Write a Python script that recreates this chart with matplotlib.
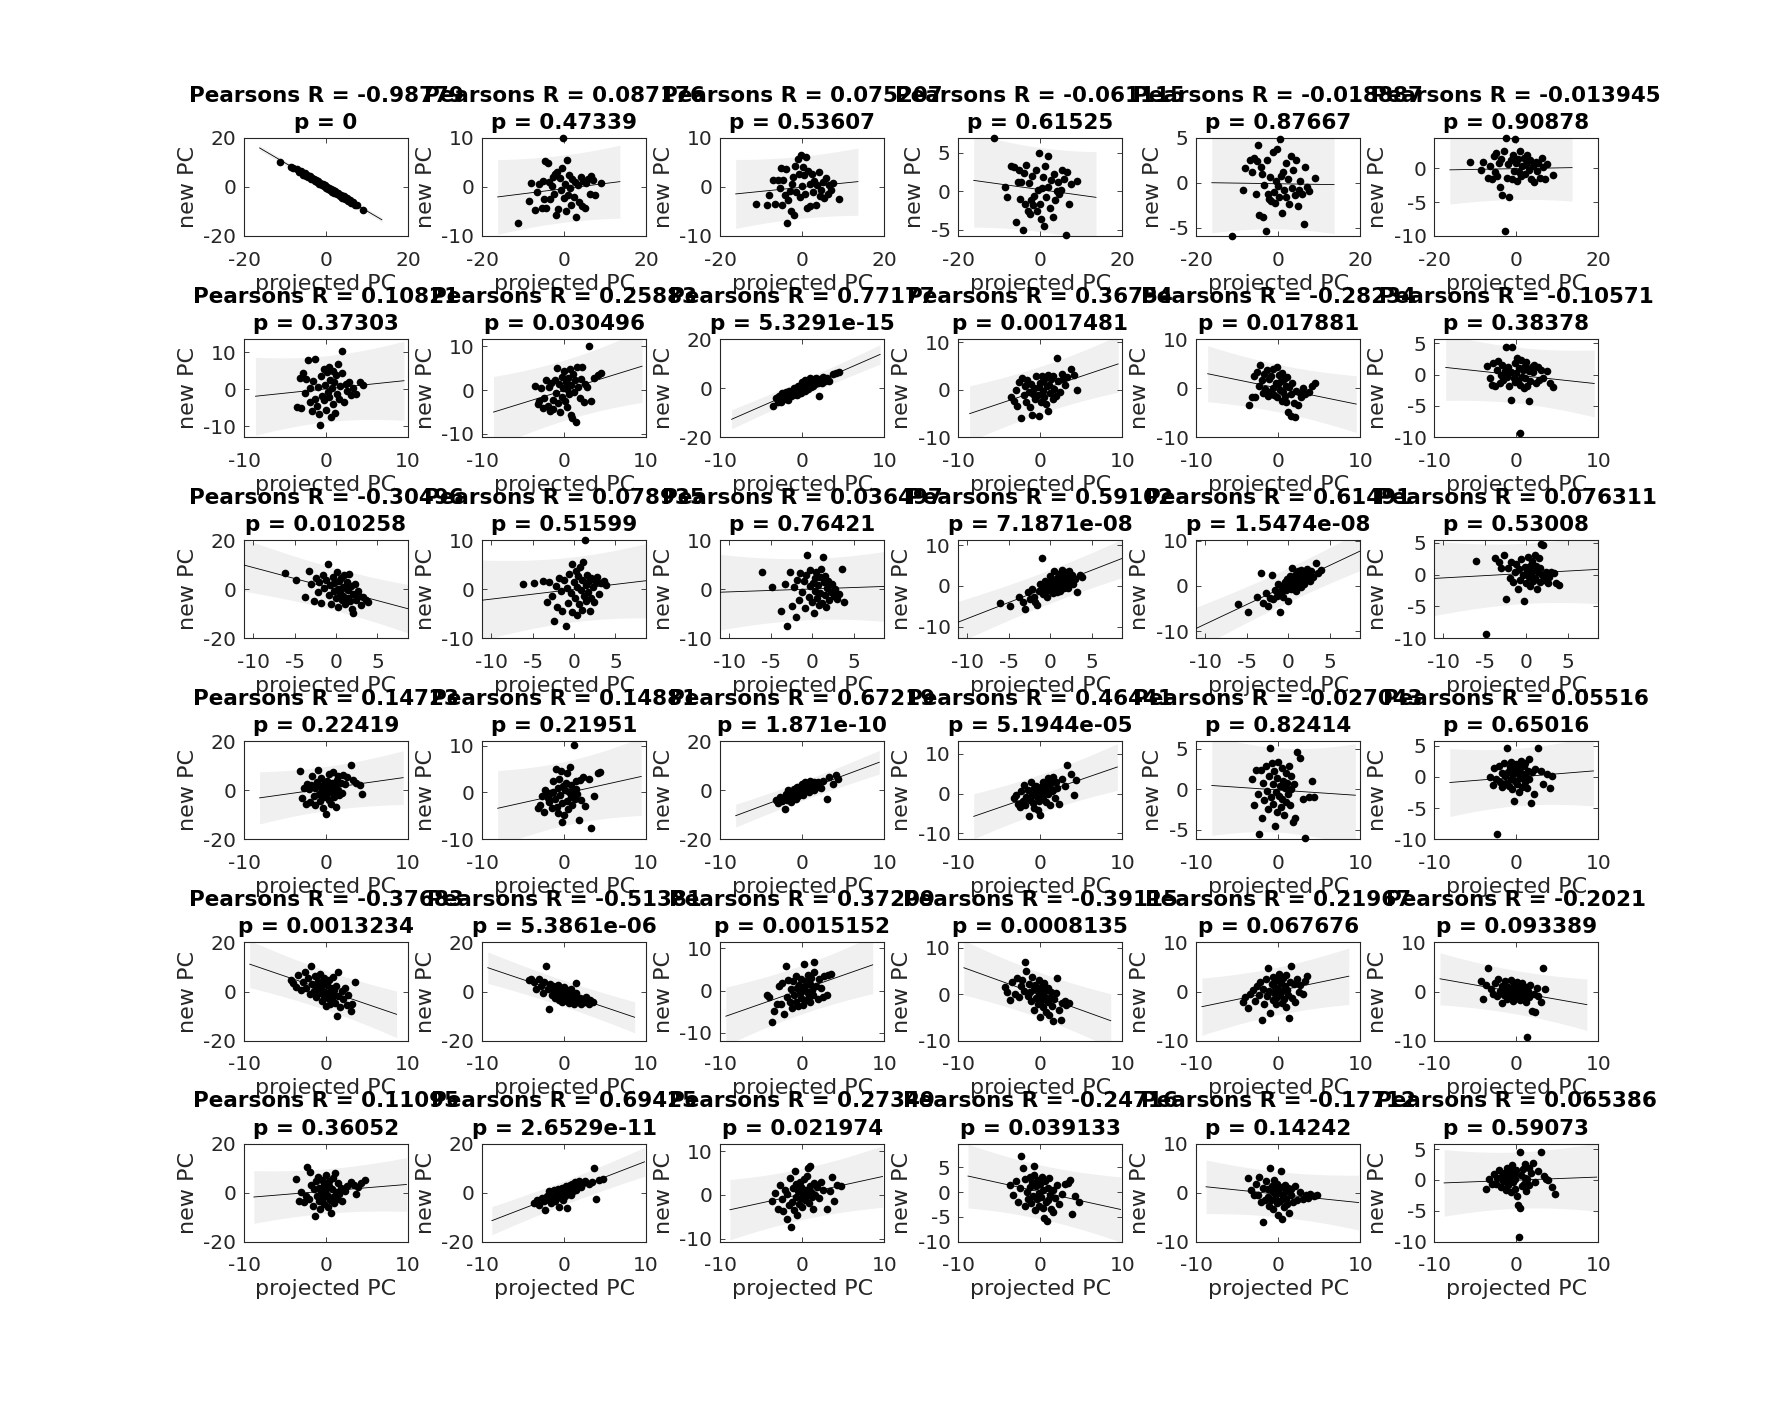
import numpy as np
import matplotlib.pyplot as plt
from matplotlib.ticker import MultipleLocator

plt.rcParams['font.family'] = ['DejaVu Sans']
plt.rcParams['axes.unicode_minus'] = False

# projected PC values (shared along each row)
x_row1 = [-11.3, -8.5, -8, -7, -6.5, -6, -5.5, -5.2, -5, -4.6,
          -4.3, -4, -3.7, -3.4, -3, -2.8, -2.5, -2.2, -2, -1.7,
          -1.4, -1.1, -0.8, -0.5, -0.3, 0, 0.2, 0.5, 0.7, 1,
          1.2, 1.5, 1.8, 2, 2.3, 2.6, 3, 3.3, 3.6, 4,
          4.3, 4.7, 5, 5.4, 5.8, 6.2, 6.6, 7, 7.5, 9]
x_row2 = [-3.6, -3.2, -3.0, -2.8, -2.6, -2.4, -2.2, -2.0, -1.9, -1.7,
          -1.6, -1.4, -1.3, -1.1, -1.0, -0.9, -0.7, -0.6, -0.5, -0.3,
          -0.2, -0.1, 0.0, 0.1, 0.2, 0.3, 0.4, 0.5, 0.6, 0.7,
          0.8, 0.9, 1.0, 1.1, 1.2, 1.3, 1.5, 1.6, 1.7, 1.9,
          2.0, 2.2, 2.4, 2.6, 2.8, 3.0, 3.3, 3.7, 4.1, 4.5]
x_row3 = [-6.1, -4.8, -3.8, -3.3, -3.0, -2.7, -2.4, -2.2, -2.0, -1.8,
          -1.6, -1.4, -1.2, -1.0, -0.9, -0.7, -0.6, -0.4, -0.3, -0.2,
          0.0, 0.1, 0.2, 0.3, 0.4, 0.5, 0.6, 0.7, 0.8, 0.9,
          1.0, 1.1, 1.2, 1.3, 1.4, 1.5, 1.6, 1.7, 1.8, 1.9,
          2.0, 2.1, 2.3, 2.4, 2.6, 2.8, 3.0, 3.3, 3.6, 3.9]
x_row4 = [-3.2, -2.9, -2.7, -2.5, -2.3, -2.1, -2.0, -1.8, -1.7, -1.5,
          -1.4, -1.3, -1.1, -1.0, -0.9, -0.8, -0.7, -0.6, -0.5, -0.4,
          -0.3, -0.2, -0.1, 0.0, 0.1, 0.2, 0.3, 0.4, 0.5, 0.6,
          0.7, 0.8, 0.9, 1.0, 1.1, 1.2, 1.3, 1.4, 1.5, 1.6,
          1.8, 1.9, 2.1, 2.3, 2.6, 3.0, 3.3, 3.7, 4.1, 4.4]
x_row5 = [-4.3, -4.0, -3.7, -3.4, -3.1, -2.8, -2.6, -2.4, -2.2, -2.0,
          -1.8, -1.7, -1.5, -1.4, -1.2, -1.1, -1.0, -0.8, -0.7, -0.6,
          -0.5, -0.4, -0.3, -0.2, -0.1, 0.0, 0.1, 0.2, 0.3, 0.4,
          0.5, 0.6, 0.7, 0.8, 0.9, 1.0, 1.1, 1.2, 1.3, 1.4,
          1.5, 1.7, 1.9, 2.1, 2.3, 2.5, 2.7, 3.0, 3.2, 3.5]
x_row6 = [-3.7, -3.3, -3.0, -2.7, -2.5, -2.3, -2.1, -1.9, -1.8, -1.6,
          -1.5, -1.3, -1.2, -1.1, -1.0, -0.9, -0.8, -0.7, -0.6, -0.5,
          -0.4, -0.3, -0.2, -0.1, 0.0, 0.1, 0.2, 0.3, 0.4, 0.5,
          0.6, 0.7, 0.8, 0.9, 1.0, 1.1, 1.2, 1.3, 1.5, 1.6,
          1.8, 2.0, 2.3, 2.6, 3.0, 3.4, 3.6, 3.9, 4.3, 4.7]

# new PC values, one list per panel
y_r1c1 = [10.2, 8.0, 7.6, 7.3, 6.0, 6.4, 5.0, 5.8, 4.6, 4.9,
          3.9, 4.5, 3.2, 3.8, 3.3, 2.4, 2.9, 1.9, 2.5, 1.3,
          1.8, 0.7, 1.2, 0.2, 0.8, -0.4, 0.1, -0.9, -0.3, -1.4,
          -0.8, -1.9, -1.3, -2.4, -1.8, -3.0, -2.5, -3.7, -3.1, -4.4,
          -3.8, -5.0, -4.6, -5.8, -5.3, -6.6, -6.1, -7.4, -7.2, -9.4]
y_r1c2 = [-7.4, -2.8, 0.8, -4.8, -1.0, 0.6, -4.2, 1.2, -2.5, 5.2,
          -4.3, 4.8, 1.0, -2.4, 0.2, 2.0, -1.5, 2.6, -5.8, 3.0,
          -4.6, 1.8, -0.6, 3.8, 10.0, -2.2, 0.5, -5.0, 5.4, -1.6,
          2.4, -0.3, -3.6, 1.6, -2.0, 1.0, -6.2, 0.4, -3.0, 2.0,
          -3.8, 1.2, -4.2, 0.8, 1.6, -1.4, 2.2, 1.4, -1.6, 0.9]
y_r1c3 = [-3.4, -3.6, -1.6, 1.5, -3.5, 1.4, -0.3, 3.8, -3.6, 1.4,
          -1.6, 3.6, -7.4, -2.6, -0.8, -5.0, 0.6, 2.0, -5.8, 4.2,
          -1.0, 5.8, 2.6, -2.0, 6.6, 0.2, 4.0, 2.4, -1.4, 6.2,
          -4.2, 3.2, 0.6, -3.8, 2.6, -1.0, 1.2, -3.6, 0.4, 3.0,
          -1.8, -0.6, 1.0, -2.2, 1.8, -1.5, 0.4, -0.6, 0.8, -2.4]
y_r1c4 = [6.9, 0.5, -0.8, 3.2, 3.1, -4.0, 1.2, 2.8, -1.0, 1.2,
          -5.0, 2.4, -1.6, 3.4, -2.6, 1.0, -3.0, -1.2, 2.0, -1.8,
          -0.6, 2.8, -2.6, 0.2, 5.0, -1.6, -3.6, 0.4, 1.8, -4.5,
          3.2, -0.8, 4.5, 0.6, -2.2, 1.4, -3.4, 2.2, -1.2, 0.0,
          1.2, -0.4, 0.2, 2.8, 1.6, -5.7, 2.5, -1.6, 0.9, 1.3]
y_r1c5 = [-5.9, -0.8, 1.6, 2.6, 1.2, 2.8, -1.2, 2.4, 4.2, -3.6,
          1.8, 1.0, -3.8, -0.2, -5.4, 2.6, -1.2, -1.8, 0.6, -2.0,
          3.4, -1.0, -2.2, 0.2, 3.8, -0.4, -1.6, 4.9, 0.8, -3.4,
          1.2, -0.8, 2.2, -1.6, 0.4, -2.4, 3.0, -0.6, 1.4, -1.4,
          2.6, -2.6, -0.8, 0.2, -1.2, -4.6, 1.8, -0.5, -0.9, 0.5]
y_r1c6 = [0.9, -0.2, 1.0, -1.4, 0.4, -1.6, 1.8, -0.6, 2.2, -1.2,
          0.8, -2.8, 1.4, -4.0, 2.6, -9.3, 4.5, -1.4, 0.6, -4.2,
          1.2, -1.6, 2.0, -0.4, 4.4, 0.8, -1.8, 1.4, -0.6, 2.6,
          -1.2, 0.4, 1.6, -0.8, 0.6, 2.0, -0.2, 1.2, -1.6, 0.4,
          -2.0, 1.0, -0.4, 0.8, -1.4, 1.6, 0.2, -1.6, 0.6, -1.0]

y_r2c1 = [-4.8, 3.0, -5.2, 4.2, -1.0, 2.8, 7.8, -3.6, 0.4, -6.0,
          2.2, -2.6, 8.0, -4.6, 0.6, -6.8, -9.6, 3.4, -1.8, 5.4,
          -3.0, 1.2, -5.6, 4.6, -0.8, 6.0, -2.2, 2.4, -7.6, 0.2,
          5.0, -4.0, 1.8, -6.4, 3.8, -1.4, 6.8, -2.8, 0.8, 4.2,
          10.3, -3.4, 1.4, -0.6, 2.0, -1.6, 0.4, -1.4, 1.8, 1.0]
y_r2c2 = [1.0, -3.2, -2.6, 0.4, -4.2, -1.8, 2.4, -3.6, 0.8, -4.8,
          1.6, -2.2, -4.4, 2.2, -0.6, 5.0, -3.0, 1.4, -5.0, 3.0,
          -1.6, 0.4, 4.4, -2.4, 1.8, -4.0, 0.2, 2.8, -1.0, 4.8,
          -5.8, 1.2, -6.4, 3.6, -0.4, 2.2, -7.4, 5.4, 0.6, -1.8,
          2.6, 5.2, -2.8, 1.4, 0.8, 10.0, -2.6, 2.8, 3.4, 4.0]
y_r2c3 = [-7.4, -4.0, -5.6, -3.2, -5.8, -2.0, -4.6, -1.4, -3.8, -4.8,
          -1.0, -3.4, -1.8, -3.0, 0.2, -2.2, -0.6, -2.8, 1.0, -1.2,
          0.8, -2.0, 2.4, -0.4, 1.4, -1.0, 3.4, 0.6, 2.0, -0.2,
          3.0, 1.2, 4.0, 0.4, 2.6, 1.0, 3.6, 1.6, 4.2, 2.2,
          -3.2, 3.8, 2.0, 4.4, 2.8, 4.0, 3.0, 5.6, 6.2, 6.6]
y_r2c4 = [-1.6, -2.4, 0.0, -3.4, 1.6, -6.0, 2.4, -1.2, 0.8, -2.6,
          2.0, -0.4, -3.6, 1.2, -5.4, -0.8, 0.4, -2.0, 2.8, -1.2,
          0.6, -5.6, 1.4, -2.6, 3.0, -0.2, 1.8, -1.6, 2.4, -3.0,
          0.8, 3.2, -4.4, 1.0, -0.6, 2.2, -2.0, 3.0, 0.2, -1.4,
          6.6, 1.8, -0.4, 3.4, 2.2, 1.0, 2.6, 4.4, 3.2, 0.0]
y_r2c5 = [-3.4, -1.8, 2.4, -1.8, 3.2, 0.4, 4.8, 1.6, -1.0, 2.8,
          -0.2, 3.6, -1.6, 1.8, -0.8, 2.4, 0.0, 3.8, -1.4, 1.0,
          4.2, -1.8, 0.8, 2.6, -0.4, 1.4, -2.6, 3.0, -0.8, 1.8,
          -1.6, 0.4, -2.8, 2.2, -4.8, 0.2, -5.6, -1.2, 1.0, -3.0,
          -6.0, -0.6, -3.4, -1.0, -1.8, 0.0, -1.2, -0.8, 0.4, 1.0]
y_r2c6 = [1.4, -0.6, -1.6, 1.8, -1.8, 0.8, 2.2, -1.4, 0.0, 1.6,
          -0.8, 0.6, 4.4, -0.4, 1.2, -1.8, -4.0, 0.4, 4.4, -0.6,
          1.8, -1.2, 0.2, 2.6, -0.8, 1.0, -1.6, -9.3, 2.4, -0.4,
          0.8, -2.2, 1.4, -0.6, 2.0, -1.8, -4.2, 0.6, -1.0, 1.2,
          0.4, 1.6, -1.4, 1.2, -0.8, 0.8, -0.6, 0.6, -1.4, -2.0]

y_r3c1 = [6.7, 3.9, -3.0, 7.6, 2.0, -4.8, 4.4, -1.0, 2.8, -5.6,
          6.0, 0.4, 3.6, 10.2, -2.4, 1.8, -6.2, 5.0, -0.8, 2.6,
          -3.6, 7.0, 0.2, -7.4, 3.2, -1.6, 4.6, -4.4, 1.0, -2.8,
          5.6, -6.0, 0.6, 3.0, -3.4, -0.4, 6.4, -5.0, 1.4, -8.0,
          -9.6, -2.0, 2.2, -4.2, -0.6, -2.6, -6.4, -3.2, -4.6, -5.4]
y_r3c2 = [1.0, 1.2, 1.6, -2.6, 1.4, -1.4, -6.4, 0.6, -3.6, 2.2,
          -0.4, -4.4, 1.8, -7.6, 0.2, -2.8, 3.2, -0.8, 5.2, -4.6,
          1.4, -1.8, 3.8, -5.2, 0.4, 2.6, -3.0, 4.6, -0.2, 1.8,
          -4.2, 5.6, -1.4, 10.0, 0.8, -2.4, 3.0, -0.6, 1.6, -4.4,
          2.2, -1.8, 0.4, -2.6, 1.4, 2.4, -1.0, 1.2, 1.6, 0.8]
y_r3c3 = [3.6, 0.4, -4.5, 1.0, -7.4, 3.6, -3.4, 0.4, -5.6, 1.8,
          -2.2, 3.4, -0.6, 1.6, -3.8, 2.8, 6.9, -1.6, 0.6, 4.0,
          -2.6, 1.2, -4.8, 2.2, -0.4, 3.6, -1.8, 0.8, -3.2, 2.4,
          -0.8, 4.2, -2.8, 6.5, 1.4, -1.2, 2.6, -3.6, 0.2, 1.6,
          -2.2, 1.0, -0.6, 1.0, -1.4, 0.0, -2.0, -1.0, 4.2, -2.6]
y_r3c4 = [-4.2, -5.0, -2.6, -4.0, -5.8, -1.6, -3.2, -0.8, -2.6, -4.0,
          -4.6, -1.2, 0.4, 7.0, -2.0, -0.4, 1.2, -2.8, 0.8, -1.0,
          2.4, -0.2, 1.6, -1.8, 0.6, 3.8, -0.8, 1.4, -1.6, 2.2,
          0.0, 3.0, -1.2, 1.6, 4.0, 0.4, 2.4, -0.4, 3.4, 1.0,
          2.0, -0.6, 3.6, 1.2, 2.6, 0.6, 1.8, -1.4, 2.8, 2.2]
y_r3c5 = [-4.0, -5.7, -2.4, 2.8, -3.8, -1.6, -4.4, -2.8, 2.4, -3.0,
          -1.0, -2.2, 0.4, -5.9, -1.4, -0.2, -2.4, 0.8, -1.0, 1.6,
          -3.4, 0.2, 2.2, -0.8, 1.0, 4.0, -0.4, 1.8, 0.2, 2.6,
          -1.2, 1.4, 3.2, 0.6, 2.0, -0.2, 3.6, 1.2, 2.4, 0.4,
          3.0, 1.6, 3.8, 2.2, 1.0, 3.2, 2.0, 5.0, 2.8, 3.5]
y_r3c6 = [2.2, -9.3, 2.6, 2.0, 1.0, 3.0, -3.8, 1.0, -0.6, 2.0,
          -1.2, 0.4, 1.6, -2.2, 0.8, -0.8, 2.4, 0.0, -4.1, 1.2,
          -1.4, 0.6, 2.8, -0.4, 1.4, -1.8, 0.2, 2.2, -1.0, 0.8,
          3.0, -0.6, 1.4, -2.2, 0.4, 2.6, -1.2, 1.0, 4.8, 0.0,
          4.6, -0.8, -0.6, 0.4, -1.4, -0.4, 0.4, 0.2, -1.3, -1.6]

y_r4c1 = [8.1, -3.0, 0.8, -5.4, 2.6, 0.6, -4.8, 2.0, 5.8, -2.2,
          0.8, -6.0, 3.4, 8.4, -1.6, 1.8, -4.2, 5.2, -0.4, -7.0,
          2.6, -2.8, 0.4, -9.6, 4.0, -1.2, 6.8, -3.8, 1.4, -5.4,
          3.0, -0.8, 7.6, -2.6, 2.0, -6.8, 4.4, 0.2, 5.8, -1.8,
          2.8, -1.2, 6.4, 2.6, 5.6, 10.4, 4.4, 2.8, 2.2, -1.4]
y_r4c2 = [-3.4, -2.7, -0.8, -4.2, 0.6, -0.4, -1.2, -2.0, -0.2, -3.4,
          0.2, 2.4, -1.4, 5.0, -3.0, 1.0, -4.4, 2.8, -0.6, 4.6,
          -2.2, -6.3, 1.4, -4.8, 0.6, 2.0, -1.8, 4.2, -3.6, 0.2,
          5.4, -1.0, 1.6, -2.6, 0.4, 10.2, -1.4, 2.4, 0.8, -0.4,
          -5.9, 2.6, -1.6, 3.2, -2.8, 2.8, -7.5, -0.8, 4.2, 4.4]
y_r4c3 = [-3.8, -5.2, -2.6, -4.4, -3.0, -7.4, -1.6, -4.0, 0.2, -2.8,
          -4.6, -1.2, -3.2, 0.4, -2.0, -3.6, -0.6, 1.4, -2.4, 0.0,
          -1.4, 1.8, -0.8, 2.6, -1.8, 0.8, 3.4, -0.4, 2.0, 0.4,
          3.0, -0.8, 1.6, 3.8, 0.6, 2.4, 1.0, 3.6, 0.2, 2.8,
          1.2, 3.4, 2.0, 0.8, 3.8, -3.4, 5.4, 2.6, 6.4, 4.6]
y_r4c4 = [-1.2, -0.4, -2.6, -3.4, 0.6, -1.8, 2.2, -3.0, -0.8, 1.0,
          -5.7, -1.6, 2.8, -0.4, -2.4, 1.4, -3.6, 0.2, 2.0, -1.0,
          -4.2, 0.8, -2.0, -5.5, 1.6, -0.6, 3.0, -1.4, 0.4, 2.4,
          -2.2, 1.2, 3.8, -0.2, 1.8, -3.0, 2.6, 0.6, 4.2, 1.0,
          -1.2, 2.8, 1.4, -2.6, 3.6, 2.0, 7.1, 5.0, -0.3, 3.5]
y_r4c5 = [1.2, -2.0, 2.4, -0.6, -5.5, 2.4, -3.6, 0.8, -1.4, 2.8,
          -0.2, -2.4, 1.6, 5.1, -1.0, 3.2, -1.8, 0.6, 2.2, -4.6,
          -0.4, 1.4, -2.8, 3.4, -0.8, 0.4, -2.2, 2.6, -1.2, 1.0,
          -3.2, 0.2, 2.0, -1.6, 0.8, -0.6, 2.8, -2.0, 0.0, 1.6,
          -4.0, 0.6, -3.5, 4.6, 3.9, -1.2, -6.0, -1.0, 1.0, -1.0]
y_r4c6 = [0.0, -1.3, 1.4, -0.4, -9.1, 1.8, -0.8, 0.6, -1.6, 2.2,
          0.2, -1.0, 4.6, 0.8, -1.4, 1.6, -0.4, 2.4, -2.0, 0.4,
          -3.8, 1.2, -0.6, 2.0, -1.2, 0.6, -2.4, 1.4, -0.2, 2.6,
          -1.6, 0.4, 1.8, -0.8, 2.2, 0.0, -1.8, 1.0, -0.4, 2.8,
          -4.2, 0.8, -2.8, 1.2, 4.6, 1.0, -1.2, 0.4, -1.7, 0.2]

y_r5c1 = [4.8, 3.4, 2.0, 6.8, 0.8, 4.0, 8.0, 1.6, 5.4, -1.0,
          10.2, 3.0, 0.2, 6.4, -2.4, 2.2, 4.4, -0.6, 7.2, 1.2,
          -3.8, 3.2, -1.8, 5.6, 0.0, -6.0, 2.6, -2.6, 4.6, -0.8,
          -5.2, 1.6, -3.4, 6.0, -1.4, 0.6, -4.6, 2.4, -9.9, 7.8,
          -2.0, -6.4, 0.2, -3.0, 1.4, -5.6, -1.6, -8.0, -5.0, 3.8]
y_r5c2 = [4.6, 5.0, 3.8, 1.0, 5.2, 2.4, -0.6, 4.0, 10.2, 1.2,
          -7.2, 3.0, -1.6, 2.2, 0.0, -2.6, 1.8, -1.0, 2.6, -3.4,
          0.4, -1.8, 1.4, -4.4, -0.6, 2.0, -2.4, -0.2, -3.8, 0.8,
          -1.6, -4.8, -0.4, -2.8, 1.0, -3.6, -1.2, -5.2, -2.0, -0.6,
          3.4, -4.0, -2.6, -5.0, -3.0, -4.4, -2.2, -5.0, -3.6, -4.1]
y_r5c3 = [-1.0, -1.6, -7.3, -4.9, -3.2, 1.0, -3.2, 1.8, -5.6, 5.8,
          -1.4, 2.6, -2.6, 0.4, -4.0, 2.2, -1.0, 3.4, -2.8, 0.6,
          -3.6, 1.4, -0.6, 2.8, -1.8, 0.2, -3.4, 6.3, 1.0, -2.2,
          2.4, -0.4, 3.8, -1.4, 1.6, -2.6, 3.0, 0.2, -1.0, 4.4,
          6.7, 1.2, -2.0, 2.8, 0.6, -1.4, 3.4, -1.0, 3.8, 4.0]
y_r5c4 = [1.5, 0.4, -1.2, 2.6, 0.0, 3.4, -0.6, 1.8, 3.0, 0.6,
          6.9, 5.0, -0.4, 2.2, 0.4, -1.6, 3.6, 1.0, -3.5, 2.0,
          -0.8, 1.2, -2.2, 3.0, 0.0, -5.0, 1.6, -1.2, 0.6, -2.8,
          2.4, -0.6, -3.8, 0.8, -1.8, 1.4, -4.4, -0.8, 0.4, -2.6,
          -5.8, -1.0, 0.2, 3.5, -3.4, -5.6, -2.0, -1.4, -2.4, -1.9]
y_r5c5 = [-2.2, -1.2, -3.4, -0.6, 0.4, -2.0, 1.2, -0.8, 2.0, -5.8,
          0.6, -2.6, 2.6, -1.0, 4.7, 0.2, -4.4, 1.6, -1.8, 3.0,
          -0.4, 1.0, -2.6, 2.4, -1.2, 0.6, 3.6, -0.6, 1.8, -2.4,
          0.2, 2.8, -1.6, 1.2, -3.2, 3.4, 0.4, -0.8, -5.5, 2.0,
          5.2, -1.4, 1.6, -2.2, 2.6, 0.0, 1.4, -0.6, 2.2, 3.2]
y_r5c6 = [2.1, -1.5, 1.4, 4.7, 0.6, -0.6, 1.8, -1.0, 2.6, 0.2,
          -2.4, 1.2, -0.8, 2.2, 0.4, -1.6, 1.0, -0.4, 2.4, -1.2,
          0.8, -2.0, 1.6, -0.6, 0.2, -1.4, 2.0, -0.2, 1.2, -1.8,
          0.4, -0.8, 1.8, -1.4, 0.6, -0.4, 1.0, -2.2, -9.2, 0.2,
          -1.2, 1.4, -3.9, -0.6, -4.2, 0.8, -1.0, -2.1, 4.7, 0.5]

y_r6c1 = [5.4, -3.6, 0.2, -4.0, -1.2, 10.5, -2.6, 8.4, 3.2, -5.6,
          1.4, -9.5, 4.6, -1.2, 6.4, -3.4, 2.0, -6.8, 0.4, 5.2,
          -2.0, 3.0, -4.6, 1.0, 7.0, -0.8, -6.0, 2.6, 4.8, -3.0,
          -8.2, 1.6, -1.6, 6.0, -4.4, 8.2, 0.2, -2.4, 3.8, -0.6,
          1.8, -3.6, 0.8, 2.8, 4.4, 3.0, -0.4, 2.2, 3.8, 5.0]
y_r6c2 = [-4.1, -3.0, -5.2, -2.0, -3.6, -7.1, -1.2, -3.0, 0.6, -4.4,
          -1.6, -2.8, 1.2, -3.6, -0.4, -2.2, 1.6, -1.0, -5.8, 0.4,
          -1.8, 2.0, -0.6, -3.0, 1.0, -1.4, 2.6, -0.2, -6.2, 1.8,
          0.0, 3.0, -1.0, 1.4, 3.6, 0.6, 2.2, 4.2, 1.0, 3.2,
          4.6, 2.4, 3.8, 4.8, 3.4, 4.4, 10.2, -2.4, 5.0, 5.7]
y_r6c3 = [-1.5, 0.4, -3.2, 2.3, -1.0, -3.8, 1.0, -5.6, 0.2, -2.4,
          3.8, -7.3, -1.6, 1.6, -3.4, 5.5, -0.6, 2.4, -4.6, 0.8,
          -2.0, 3.0, -0.8, 1.8, -2.8, 0.4, 3.6, -1.2, 1.2, -0.2,
          4.4, 6.2, -1.8, 2.0, 6.6, 0.6, -0.6, -3.2, 2.6, 0.0,
          1.8, -0.8, 3.0, 1.2, -3.2, 0.8, 4.1, -1.3, 2.2, 2.1]
y_r6c4 = [1.4, -0.6, 2.2, -1.9, 0.8, 7.3, 4.8, -2.8, 2.6, 0.0,
          -1.4, 3.0, 1.0, -2.2, 2.0, -0.8, 3.4, 5.3, -3.6, 1.2,
          -1.4, 2.4, -0.2, -2.8, 1.6, -1.0, 3.0, -3.2, 0.4, -5.3,
          2.2, -2.0, -5.9, 0.8, -1.6, 2.8, -0.6, -3.4, -4.1, 0.4,
          -1.2, 1.5, -2.4, -0.4, 1.6, 1.8, 2.5, -4.5, -0.8, -1.9]
y_r6c5 = [2.9, 0.6, -0.4, 1.8, -0.5, 3.2, -2.0, -6.0, 1.0, -1.4,
          2.4, -0.8, 0.8, -2.8, 5.1, -1.6, 1.4, -3.4, 0.2, 2.6,
          -1.0, 0.6, -2.2, 1.8, -4.6, 0.0, -1.8, 4.4, -5.4, 1.2,
          -0.6, -3.0, 1.6, -1.2, 0.4, -2.4, 1.0, -4.1, -0.4, 0.8,
          -2.0, 1.4, -1.6, 0.2, -1.2, -0.4, -1.0, -0.2, -0.6, -0.5]
y_r6c6 = [-1.5, 0.2, -0.6, 1.0, -0.7, 0.4, 1.6, -1.2, 0.6, -0.2,
          1.2, -1.6, 0.8, 2.0, -0.8, 0.2, 1.4, -2.0, 0.6, 2.4,
          -0.4, 1.0, -1.4, 0.2, 1.6, -2.6, -4.1, -9.3, 4.5, -4.6,
          0.8, -1.0, 1.8, -0.6, 0.4, 2.6, -1.8, 0.2, 2.0, -0.8,
          1.2, 2.8, -0.4, 1.4, 4.5, 0.6, 0.1, 0.0, -1.2, -2.2]

# numbers printed in the panel titles
r_text = [['-0.98779', '0.087176', '0.075207', '-0.061115', '-0.018887', '-0.013945'],
          ['0.10821', '0.25883', '0.77177', '0.36754', '-0.28234', '-0.10571'],
          ['-0.30496', '0.078935', '0.036497', '0.59102', '0.61491', '0.076311'],
          ['0.14723', '0.14881', '0.67219', '0.46441', '-0.027043', '0.05516'],
          ['-0.37683', '-0.51381', '0.37209', '-0.39115', '0.21967', '-0.2021'],
          ['0.11095', '0.69425', '0.27349', '-0.24716', '-0.17712', '0.065386']]
p_text = [['0', '0.47339', '0.53607', '0.61525', '0.87667', '0.90878'],
          ['0.37303', '0.030496', '5.3291e-15', '0.0017481', '0.017881', '0.38378'],
          ['0.010258', '0.51599', '0.76421', '7.1871e-08', '1.5474e-08', '0.53008'],
          ['0.22419', '0.21951', '1.871e-10', '5.1944e-05', '0.82414', '0.65016'],
          ['0.0013234', '5.3861e-06', '0.0015152', '0.0008135', '0.067676', '0.093389'],
          ['0.36052', '2.6529e-11', '0.021974', '0.039133', '0.14242', '0.59073']]

# fit line extent per row, axis limits
fit_range = [(-16.2, 13.6), (-8.6, 9.5), (-11.1, 8.7), (-8.1, 9.4), (-9.3, 8.6), (-8.8, 9.8)]
x_lims = [(-20, 20), (-10, 10), (-11.1, 8.7), (-10, 10), (-10, 10), (-10, 10)]
x_steps = [20, 10, 5, 10, 10, 10]
y_lims = [[(-20, 20), (-10, 10), (-10, 10), (-5.8, 6.9), (-5.9, 5), (-10, 4.5)],
          [(-13, 13.5), (-10.8, 11.7), (-20, 20), (-10, 10.7), (-10, 10), (-10, 5.7)],
          [(-20, 20), (-10, 10), (-10, 10), (-12.9, 11.3), (-11.6, 10.1), (-10, 5.4)],
          [(-20, 20), (-10, 10.9), (-20, 20), (-11.6, 13.2), (-6.2, 5.9), (-10, 5.7)],
          [(-20, 20), (-20, 20), (-11.8, 11.4), (-10, 11.1), (-10, 10), (-10, 10)],
          [(-20, 20), (-20, 20), (-10.7, 11.7), (-10, 9.8), (-10, 10), (-10, 5.9)]]
y_steps = [[20, 10, 10, 5, 5, 5],
           [10, 10, 20, 10, 10, 5],
           [20, 10, 10, 10, 10, 5],
           [20, 10, 20, 10, 5, 5],
           [20, 20, 10, 10, 10, 10],
           [20, 20, 10, 5, 10, 5]]

x_rows = [x_row1, x_row2, x_row3, x_row4, x_row5, x_row6]
y_panels = [[y_r1c1, y_r1c2, y_r1c3, y_r1c4, y_r1c5, y_r1c6],
            [y_r2c1, y_r2c2, y_r2c3, y_r2c4, y_r2c5, y_r2c6],
            [y_r3c1, y_r3c2, y_r3c3, y_r3c4, y_r3c5, y_r3c6],
            [y_r4c1, y_r4c2, y_r4c3, y_r4c4, y_r4c5, y_r4c6],
            [y_r5c1, y_r5c2, y_r5c3, y_r5c4, y_r5c5, y_r5c6],
            [y_r6c1, y_r6c2, y_r6c3, y_r6c4, y_r6c5, y_r6c6]]

fig = plt.figure(figsize=(17.72, 14.13), dpi=100)
dark = '#262626'

for r in range(6):
    for c in range(6):
        ax = fig.add_axes([0.1377 + c * 0.13434, 0.833 - r * 0.14235, 0.0926, 0.0694])
        x = np.array(x_rows[r], dtype=float)
        y = np.array(y_panels[r][c], dtype=float)

        # least squares line and prediction band
        slope, icpt = np.polyfit(x, y, 1)
        n = len(x)
        s = np.sqrt(np.sum((y - (icpt + slope * x)) ** 2) / (n - 2))
        sxx = np.sum((x - x.mean()) ** 2)
        xx = np.linspace(fit_range[r][0], fit_range[r][1], 80)
        yy = icpt + slope * xx
        half = 2.0 * s * np.sqrt(1 + 1 / n + (xx - x.mean()) ** 2 / sxx)

        ax.fill_between(xx, yy - half, yy + half, color='#f0f0f0', lw=0, zorder=1)
        ax.plot(x, y, 'o', color='k', ms=5.5, mew=0, zorder=3, clip_on=False)
        ax.plot(xx, yy, '-', color='k', lw=0.6, zorder=4)

        ax.set_xlim(*x_lims[r])
        ax.set_ylim(*y_lims[r][c])
        ax.xaxis.set_major_locator(MultipleLocator(x_steps[r]))
        ax.yaxis.set_major_locator(MultipleLocator(y_steps[r][c]))
        ax.tick_params(direction='in', top=True, right=True, length=3.5, width=0.6,
                       labelsize=14.5, colors=dark, labelcolor=dark)
        ax.tick_params(axis='x', pad=10.5)
        ax.tick_params(axis='y', pad=5.5)
        for sp in ax.spines.values():
            sp.set_color(dark)
            sp.set_linewidth(0.8)

        ax.set_xlabel('projected PC', fontsize=16, color=dark, labelpad=3)
        ax.set_ylabel('new PC', fontsize=16, color=dark, labelpad=4)
        ax.set_title('Pearsons R = %s\np = %s' % (r_text[r][c], p_text[r][c]),
                     fontsize=15.5, fontweight='bold', color='k', pad=6.5,
                     linespacing=1.45)

fig.savefig('out.png', dpi=100, facecolor='white')
